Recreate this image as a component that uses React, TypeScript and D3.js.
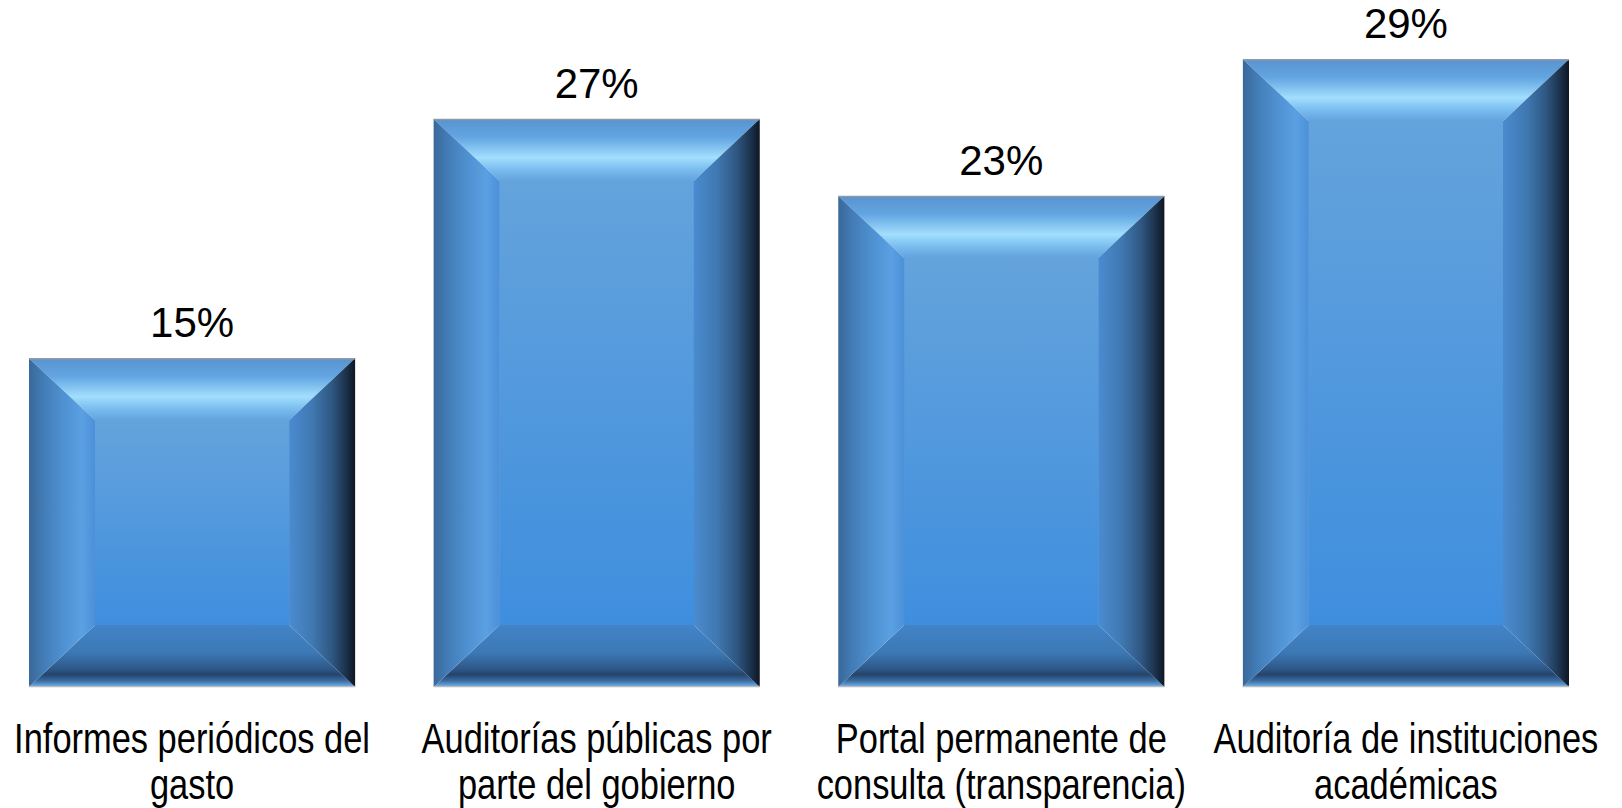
import React from "react";
import * as d3 from "d3";

const categories = [
  "Informes periódicos del|gasto",
  "Auditorías públicas por|parte del gobierno",
  "Portal permanente de|consulta (transparencia)",
  "Auditoría de instituciones|académicas",
];
const values = [15.4, 26.6, 23.0, 29.4];

const W = 1622;
const H = 808;

export default function App() {
  const x = d3
    .scaleBand<string>()
    .domain(categories)
    .range([29, 1569])
    .paddingInner(0.194)
    .paddingOuter(0);
  const y = d3.scaleLinear().domain([0, 30]).range([687, 687 - 30 * 21.35]);
  const bw = 66;
  const bh = 62;
  const fmt = (v: number) => `${Math.round(v)}%`;
  const font = "'Liberation Sans', Arial, sans-serif";

  return (
    <svg
      width={W}
      height={H}
      style={{ position: "absolute", left: 0, top: 0, background: "#fff" }}
    >
      <defs>
        <linearGradient id="gTop" x1="0" y1="0" x2="0" y2="1">
          <stop offset="0" stopColor="#5893cf" />
          <stop offset="0.3" stopColor="#63a6e2" />
          <stop offset="0.62" stopColor="#a2defd" />
          <stop offset="0.8" stopColor="#7cbff0" />
          <stop offset="1" stopColor="#62a2de" />
        </linearGradient>
        <linearGradient id="gBottom" x1="0" y1="0" x2="0" y2="1">
          <stop offset="0" stopColor="#4284c8" />
          <stop offset="0.45" stopColor="#3c78b4" />
          <stop offset="0.72" stopColor="#2d5686" />
          <stop offset="0.8" stopColor="#25446a" />
          <stop offset="0.9" stopColor="#3a6ca0" />
          <stop offset="0.96" stopColor="#5b98d3" />
          <stop offset="1" stopColor="#6ba6dc" />
        </linearGradient>
        <linearGradient id="gLeft" x1="0" y1="0" x2="1" y2="0">
          <stop offset="0" stopColor="#3a6898" />
          <stop offset="0.2" stopColor="#427bb5" />
          <stop offset="0.55" stopColor="#5093d4" />
          <stop offset="0.8" stopColor="#5ba0e2" />
          <stop offset="1" stopColor="#4c91d8" />
        </linearGradient>
        <linearGradient id="gRight" x1="0" y1="0" x2="1" y2="0">
          <stop offset="0" stopColor="#4a8bd0" />
          <stop offset="0.35" stopColor="#4079b2" />
          <stop offset="0.65" stopColor="#2f5782" />
          <stop offset="0.86" stopColor="#1c324c" />
          <stop offset="1" stopColor="#0e1724" />
        </linearGradient>
        <linearGradient id="gCenter" x1="0" y1="0" x2="0" y2="1">
          <stop offset="0" stopColor="#64a3dc" />
          <stop offset="1" stopColor="#3f8ede" />
        </linearGradient>
      </defs>
      {categories.map((c, i) => {
        const x0 = x(c) as number;
        const x1 = x0 + x.bandwidth();
        const y0 = y(values[i]);
        const y1 = y(0);
        const cx = (x0 + x1) / 2;
        const top = `M${x0},${y0}L${x1},${y0}L${x1 - bw},${y0 + bh}L${x0 + bw},${y0 + bh}Z`;
        const bottom = `M${x0},${y1}L${x1},${y1}L${x1 - bw},${y1 - bh}L${x0 + bw},${y1 - bh}Z`;
        const left = `M${x0},${y0}L${x0 + bw},${y0 + bh}L${x0 + bw},${y1 - bh}L${x0},${y1}Z`;
        const right = `M${x1},${y0}L${x1},${y1}L${x1 - bw},${y1 - bh}L${x1 - bw},${y0 + bh}Z`;
        const lines = c.split("|");
        return (
          <g key={c}>
            <rect
              x={x0 + bw - 0.5}
              y={y0 + bh - 0.5}
              width={x1 - x0 - 2 * bw + 1}
              height={y1 - y0 - 2 * bh + 1}
              fill="url(#gCenter)"
            />
            <path d={top} fill="url(#gTop)" />
            <path d={bottom} fill="url(#gBottom)" />
            <path d={left} fill="url(#gLeft)" />
            <path d={right} fill="url(#gRight)" />
            <line x1={x0} x2={x1} y1={y0 + 0.5} y2={y0 + 0.5} stroke="#8f9aa6" strokeWidth={1.5} />
            <line x1={x0} x2={x1} y1={y1 - 0.5} y2={y1 - 0.5} stroke="#b4bcc4" strokeWidth={1.5} />
            <text
              x={cx}
              y={y0 - 21}
              textAnchor="middle"
              fontFamily={font}
              fontSize={42}
              fill="#000"
            >
              {fmt(values[i])}
            </text>
            <g transform={`translate(${cx},0) scale(0.82,1)`}>
              {lines.map((ln, j) => (
                <text
                  key={j}
                  x={0}
                  y={753 + j * 46}
                  textAnchor="middle"
                  fontFamily={font}
                  fontSize={42}
                  fill="#000"
                >
                  {ln}
                </text>
              ))}
            </g>
          </g>
        );
      })}
    </svg>
  );
}
